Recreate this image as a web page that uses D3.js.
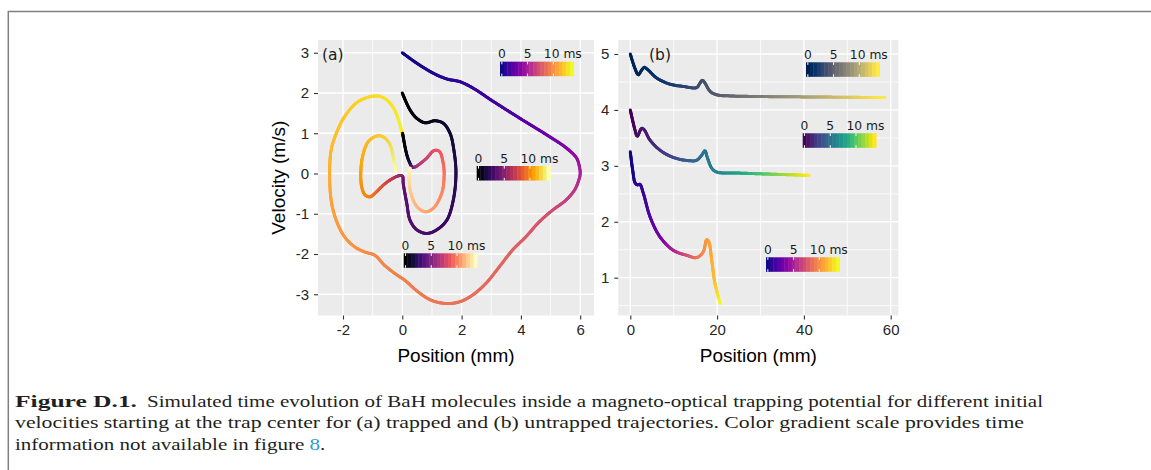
<!DOCTYPE html>
<html>
<head>
<meta charset="utf-8">
<script src="https://cdn.jsdelivr.net/npm/d3@7"></script>
<style>
  html, body { margin: 0; padding: 0; background: #fff; }
  svg { display: block; }
</style>
</head>
<body>
<svg id="fig" width="1151" height="470"></svg>
<script>
// ---------------------------------------------------------------
// Phase-space trajectories, rows are [position (mm), velocity (m/s), time (ms)]
// (a) trapped molecules
const trappedV3 = [
  [0.00, 3.00, 0.00], [0.49, 2.74, 0.17], [1.05, 2.49, 0.38], [1.50, 2.35, 0.57],
  [1.95, 2.28, 0.76], [2.39, 2.12, 0.96], [3.07, 1.79, 1.31], [3.97, 1.37, 1.88],
  [4.87, 0.96, 2.66], [5.54, 0.63, 3.50], [5.88, 0.38, 4.18], [5.98, 0.14, 4.70],
  [6.00, 0.00, 5.10], [5.95, -0.17, 5.45], [5.81, -0.41, 5.85], [5.52, -0.66, 6.40],
  [5.07, -0.91, 6.97], [4.62, -1.20, 7.40], [4.17, -1.57, 7.73], [3.72, -1.90, 7.99],
  [3.27, -2.32, 8.20], [2.82, -2.73, 8.38], [2.37, -3.02, 8.54], [1.92, -3.19, 8.69],
  [1.47, -3.23, 8.83], [0.98, -3.15, 8.98], [0.53, -2.94, 9.13], [0.08, -2.65, 9.29],
  [-0.26, -2.48, 9.42], [-0.60, -2.28, 9.56], [-0.93, -2.03, 9.71], [-1.27, -1.95, 9.88],
  [-1.61, -1.82, 10.06], [-1.95, -1.57, 10.26], [-2.23, -1.16, 10.47], [-2.40, -0.66, 10.70],
  [-2.45, 0.00, 11.10], [-2.40, 0.58, 11.45], [-2.23, 0.99, 11.70], [-1.95, 1.41, 11.95],
  [-1.50, 1.78, 12.25], [-0.99, 1.92, 12.55], [-0.65, 1.89, 12.75], [-0.32, 1.66, 12.95],
  [-0.09, 1.24, 13.15], [0.05, 0.80, 13.40]
];
const trappedV2 = [
  [0.00, 2.00, 0.00], [0.26, 1.58, 0.15], [0.49, 1.37, 0.30], [0.77, 1.26, 0.50],
  [1.10, 1.31, 0.75], [1.38, 1.25, 0.97], [1.61, 1.00, 1.17], [1.74, 0.58, 1.38],
  [1.81, 0.00, 1.75], [1.72, -0.66, 2.12], [1.50, -1.16, 2.36], [1.16, -1.40, 2.62],
  [0.82, -1.49, 2.86], [0.49, -1.40, 3.09], [0.26, -1.16, 3.27], [0.15, -0.74, 3.39],
  [0.03, -0.24, 3.65], [0.01, -0.07, 4.30], [-0.08, -0.05, 5.30], [-0.41, -0.16, 7.00],
  [-0.70, -0.33, 8.10], [-0.92, -0.49, 8.90], [-1.09, -0.58, 9.50], [-1.26, -0.53, 9.90],
  [-1.37, -0.33, 10.20], [-1.40, 0.00, 10.60], [-1.34, 0.42, 11.00], [-1.15, 0.79, 11.35],
  [-0.86, 0.93, 11.70], [-0.64, 0.91, 11.95], [-0.41, 0.71, 12.30], [-0.30, 0.38, 12.80],
  [-0.21, 0.05, 13.50]
];
const trappedV1 = [
  [0.01, 1.00, 0.00], [0.09, 0.67, 0.30], [0.17, 0.42, 0.70], [0.26, 0.25, 1.40],
  [0.33, 0.16, 3.00], [0.42, 0.16, 5.00], [0.54, 0.21, 6.50], [0.82, 0.38, 7.60],
  [1.07, 0.57, 8.30], [1.25, 0.55, 8.70], [1.38, 0.25, 9.20], [1.41, -0.08, 9.70],
  [1.33, -0.49, 10.10], [1.05, -0.86, 10.60], [0.77, -0.95, 11.00], [0.49, -0.82, 11.40],
  [0.29, -0.49, 11.90], [0.23, -0.16, 12.50], [0.24, 0.06, 13.10], [0.27, 0.13, 13.50]
];
// (b) untrapped molecules
const untrappedV5 = [
  [0.00, 5.00, 0.00], [1.08, 4.74, 0.22], [1.84, 4.63, 0.38], [2.60, 4.71, 0.55],
  [3.23, 4.76, 0.68], [4.15, 4.71, 0.87], [6.08, 4.57, 1.28], [9.15, 4.46, 1.95],
  [12.2, 4.42, 2.64], [15.3, 4.40, 3.34], [16.06, 4.48, 3.51], [16.6, 4.53, 3.63],
  [17.2, 4.48, 3.77], [18.4, 4.33, 4.04], [19.9, 4.27, 4.39], [23.0, 4.25, 5.12],
  [29.1, 4.24, 6.56], [44.5, 4.23, 10.20], [58.7, 4.22, 13.55]
];
const untrappedV4 = [
  [0.00, 4.00, 0.00], [1.08, 3.64, 0.28], [1.60, 3.53, 0.42], [2.60, 3.67, 0.70],
  [3.15, 3.65, 0.85], [4.54, 3.46, 1.24], [6.84, 3.28, 1.92], [9.90, 3.15, 2.87],
  [13.75, 3.09, 4.10], [15.3, 3.10, 4.60], [16.45, 3.19, 4.97], [17.2, 3.27, 5.21],
  [17.7, 3.16, 5.36], [18.75, 2.96, 5.71], [19.9, 2.89, 6.10], [25.3, 2.87, 7.98],
  [32.9, 2.85, 10.63], [41.2, 2.83, 13.55]
];
const untrappedV3 = [
  [0.00, 3.25, 0.00], [0.55, 2.92, 0.18], [1.08, 2.70, 0.37], [1.60, 2.66, 0.56],
  [2.20, 2.67, 0.79], [3.00, 2.51, 1.10], [4.54, 2.09, 1.78], [6.84, 1.73, 2.98],
  [9.90, 1.49, 4.90], [13.0, 1.40, 7.07], [15.3, 1.36, 8.72], [16.8, 1.46, 9.79],
  [17.6, 1.68, 10.30], [18.1, 1.64, 10.60], [18.75, 1.32, 11.05], [19.5, 0.90, 11.73],
  [20.7, 0.54, 13.55]
];

// Axis breaks
const xMajorA = [-2, 0, 2, 4, 6];
const xMinorA = [-1, 1, 3, 5];
const yMajorA = [-3, -2, -1, 0, 1, 2, 3];
const xMajorB = [0, 20, 40, 60];
const xMinorB = [10, 30, 50];
const yMajorB = [1, 2, 3, 4, 5];
const yMinorB = [0.5, 1.5, 2.5, 3.5, 4.5];

// Time scale shared by all colour bars
const timeBreaks = [0, 5, 10];
const timeLabels = ["0", "5", "10 ms"];
const timeMax = 13.56;

// Caption
const captionBold = "Figure D.1.";
const captionLine1 = "Simulated time evolution of BaH molecules inside a magneto-optical trapping potential for different initial";
const captionLine2 = "velocities starting at the trap center for (a) trapped and (b) untrapped trajectories. Color gradient scale provides time";
const captionLine3 = "information not available in figure ";
const captionRef = "8";

// ---------------------------------------------------------------
const svg = d3.select("#fig");
const SANS = "'Liberation Sans', Arial, sans-serif";
const DEJA = "'DejaVu Sans', Verdana, sans-serif";

svg.append("rect").attr("width", 1151).attr("height", 470).attr("fill", "#fff");
svg.append("path").attr("d", "M8.3,470V11.5H1151")
  .attr("fill", "none").attr("stroke", "#808080").attr("stroke-width", 1.5);

// Scales
const xA = d3.scaleLinear().domain([-2.843, 6.465]).range([318, 594]);
const yA = d3.scaleLinear().domain([-3.528, 3.317]).range([315.5, 40]);
const xB = d3.scaleLinear().domain([-2.765, 61.75]).range([618.3, 898.3]);
const yB = d3.scaleLinear().domain([0.324, 5.25]).range([315.5, 40]);

function panel(xs, ys, xMajor, xMinor, yMajor, yMinor) {
  const g = svg.append("g");
  const [x0, x1] = xs.range();
  const [yb, yt] = ys.range();
  g.append("rect").attr("x", x0).attr("y", yt).attr("width", x1 - x0).attr("height", yb - yt)
    .attr("fill", "#ebebeb");
  const grid = g.append("g").attr("stroke", "#fff").attr("fill", "none");
  xMinor.forEach(v => grid.append("line").attr("x1", xs(v)).attr("x2", xs(v)).attr("y1", yt).attr("y2", yb).attr("stroke-width", 0.8));
  yMinor.forEach(v => grid.append("line").attr("y1", ys(v)).attr("y2", ys(v)).attr("x1", x0).attr("x2", x1).attr("stroke-width", 0.8));
  xMajor.forEach(v => grid.append("line").attr("x1", xs(v)).attr("x2", xs(v)).attr("y1", yt).attr("y2", yb).attr("stroke-width", 1.3));
  yMajor.forEach(v => grid.append("line").attr("y1", ys(v)).attr("y2", ys(v)).attr("x1", x0).attr("x2", x1).attr("stroke-width", 1.3));

  const ay = g.append("g").attr("transform", `translate(${x0},0)`)
    .call(d3.axisLeft(ys).tickValues(yMajor).tickSize(4).tickPadding(5).tickFormat(d => String(d)));
  const ax = g.append("g").attr("transform", `translate(0,${yb})`)
    .call(d3.axisBottom(xs).tickValues(xMajor).tickSize(4).tickPadding(5).tickFormat(d => String(d)));
  [ay, ax].forEach(a => {
    a.select(".domain").remove();
    a.selectAll(".tick line").attr("stroke", "#333").attr("stroke-width", 1.1);
    a.selectAll(".tick text").attr("fill", "#262626")
      .style("font-family", SANS).style("font-size", "15px");
  });
  g.append("text").attr("x", (x0 + x1) / 2).attr("y", 362).attr("text-anchor", "middle")
    .style("font-family", SANS).style("font-size", "19px").attr("fill", "#000")
    .text("Position (mm)");
  return g;
}

const gA = panel(xA, yA, xMajorA, xMinorA, yMajorA, []);
const gB = panel(xB, yB, xMajorB, xMinorB, yMajorB, yMinorB);

svg.append("text").attr("transform", "translate(285,177.75) rotate(-90)")
  .attr("text-anchor", "middle").style("font-family", SANS).style("font-size", "19px")
  .attr("fill", "#000").text("Velocity (m/s)");

svg.append("text").attr("x", 322).attr("y", 60).style("font-family", DEJA)
  .style("font-size", "15.5px").attr("fill", "#1a1a1a").text("(a)");
svg.append("text").attr("x", 649).attr("y", 60).style("font-family", DEJA)
  .style("font-size", "15.5px").attr("fill", "#1a1a1a").text("(b)");

// Smooth trajectory coloured by elapsed time
const lineGen = d3.line().curve(d3.curveCatmullRom.alpha(0.5));
function trajectory(g, data, xs, ys, interp) {
  const pts = data.map(d => [xs(d[0]), ys(d[1])]);
  const full = g.append("path").attr("d", lineGen(pts)).attr("fill", "none").attr("stroke", "none");
  const node = full.node();
  const L = node.getTotalLength();
  const probe = g.append("path").attr("fill", "none").attr("stroke", "none");
  const lens = pts.map((p, i) => {
    if (i === 0) return 0;
    probe.attr("d", lineGen(pts.slice(0, i + 1)));
    return probe.node().getTotalLength();
  });
  probe.remove();
  lens[lens.length - 1] = L;
  for (let i = 1; i < lens.length; i++) if (lens[i] <= lens[i - 1]) lens[i] = lens[i - 1] + 1e-3;
  const timeAt = d3.scaleLinear().domain(lens).range(data.map(d => d[2])).clamp(true);
  const n = Math.ceil(L / 1.2);
  const seg = g.append("g").attr("fill", "none").attr("stroke-width", 3).attr("stroke-linecap", "round");
  for (let k = 0; k < n; k++) {
    const s0 = k * L / n, s1 = (k + 1) * L / n;
    const a = node.getPointAtLength(s0), b = node.getPointAtLength(s1);
    seg.append("line").attr("x1", a.x).attr("y1", a.y).attr("x2", b.x).attr("y2", b.y)
      .attr("stroke", interp(Math.min(1, timeAt((s0 + s1) / 2) / timeMax)));
  }
  full.remove();
}

trajectory(gA, trappedV3, xA, yA, d3.interpolatePlasma);
trajectory(gA, trappedV2, xA, yA, d3.interpolateInferno);
trajectory(gA, trappedV1, xA, yA, d3.interpolateMagma);
trajectory(gB, untrappedV5, xB, yB, d3.interpolateCividis);
trajectory(gB, untrappedV4, xB, yB, d3.interpolateViridis);
trajectory(gB, untrappedV3, xB, yB, d3.interpolatePlasma);

// Binned colour bar with time ticks
function colorbar(x0, y0, interp) {
  const w = 73.5, h = 14.5, nbin = 20;
  const g = svg.append("g");
  for (let i = 0; i < nbin; i++) {
    g.append("rect").attr("x", x0 + i * w / nbin).attr("y", y0)
      .attr("width", w / nbin + 0.4).attr("height", h)
      .attr("fill", interp(i / (nbin - 1)));
  }
  const pos = d3.scaleLinear().domain([0, timeMax])
    .range([x0 + w * 0.5 / nbin, x0 + w * (nbin - 0.5) / nbin]);
  timeBreaks.forEach((tb, i) => {
    const px = pos(tb);
    g.append("line").attr("x1", px).attr("x2", px).attr("y1", y0).attr("y2", y0 + 2.6)
      .attr("stroke", "#fff").attr("stroke-width", 1);
    g.append("line").attr("x1", px).attr("x2", px).attr("y1", y0 + h - 2.6).attr("y2", y0 + h)
      .attr("stroke", "#fff").attr("stroke-width", 1);
    const last = i === timeBreaks.length - 1;
    g.append("text").attr("x", last ? px - 9.5 : px).attr("y", y0 - 3.4)
      .attr("text-anchor", last ? "start" : "middle")
      .style("font-family", DEJA).style("font-size", "12.3px").attr("fill", "#1a1a1a")
      .text(timeLabels[i]);
  });
}

colorbar(500, 61.7, d3.interpolatePlasma);
colorbar(476.7, 166, d3.interpolateInferno);
colorbar(403.7, 253.3, d3.interpolateMagma);
colorbar(806, 62.3, d3.interpolateCividis);
colorbar(802.7, 133.3, d3.interpolateViridis);
colorbar(766, 257.3, d3.interpolatePlasma);

// Caption
const cap = svg.append("g").style("font-family", "'Liberation Serif', 'Times New Roman', serif")
  .style("font-size", "16.5px").attr("fill", "#231f20");
cap.append("text").attr("x", 15).attr("y", 406.5).attr("font-weight", "bold")
  .attr("textLength", 122).attr("lengthAdjust", "spacingAndGlyphs").text(captionBold);
const l1 = cap.append("text").attr("x", 147).attr("y", 406.5).text(captionLine1);
const ratio = 896 / l1.node().getComputedTextLength();
l1.attr("textLength", 896).attr("lengthAdjust", "spacingAndGlyphs");

cap.append("text").attr("x", 15).attr("y", 428).text(captionLine2)
  .attr("textLength", 1009).attr("lengthAdjust", "spacingAndGlyphs");

const l3 = cap.append("text").attr("x", 15).attr("y", 449.5);
l3.append("tspan").text(captionLine3);
l3.append("tspan").attr("fill", "#2a9bd8").text(captionRef);
l3.append("tspan").text(".");
const w3 = l3.node().getComputedTextLength();
l3.attr("textLength", w3 * ratio).attr("lengthAdjust", "spacingAndGlyphs");
</script>
</body>
</html>
